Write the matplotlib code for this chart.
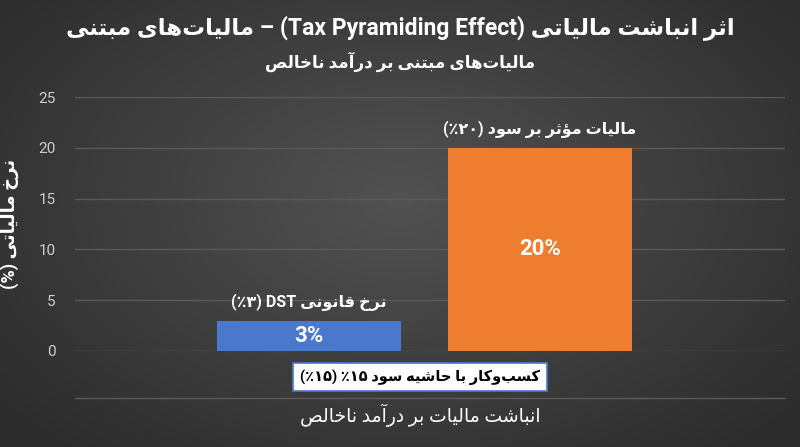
import re
import numpy as np
import matplotlib
matplotlib.use("Agg")
import matplotlib.pyplot as plt
from matplotlib.lines import Line2D

# ---------------- data ----------------
categories = ["DST", "Profit tax"]
values = [3, 20]
bar_labels = ["3%", "20%"]
annotations = ["نرخ قانونی DST (۳٪)", "مالیات مؤثر بر سود (۲۰٪)"]
yticks = [0, 5, 10, 15, 20, 25]
title = "اثر انباشت مالیاتی (Tax Pyramiding Effect) – مالیات‌های مبتنی"
subtitle = "مالیات‌های مبتنی بر درآمد ناخالص"
box_text = "کسب‌وکار با حاشیه سود ۱۵٪ (۱۵٪)"
xlabel = "انباشت مالیات بر درآمد ناخالص"
ylabel = "نرخ مالیاتی (%)"
colors = ["#4a78cc", "#ef7d2f"]

# ---------------- minimal Arabic/Persian shaping ----------------
F = {
 'ا': (0xFE8D, 0xFE8E), 'آ': (0xFE81, 0xFE82), 'د': (0xFEA9, 0xFEAA), 'ذ': (0xFEAB, 0xFEAC),
 'ر': (0xFEAD, 0xFEAE), 'ز': (0xFEAF, 0xFEB0), 'ژ': (0xFB8A, 0xFB8B), 'و': (0xFEED, 0xFEEE),
 'ؤ': (0xFE85, 0xFE86),
 'ب': (0xFE8F, 0xFE90, 0xFE91, 0xFE92), 'پ': (0xFB56, 0xFB57, 0xFB58, 0xFB59),
 'ت': (0xFE95, 0xFE96, 0xFE97, 0xFE98), 'ث': (0xFE99, 0xFE9A, 0xFE9B, 0xFE9C),
 'ج': (0xFE9D, 0xFE9E, 0xFE9F, 0xFEA0), 'چ': (0xFB7A, 0xFB7B, 0xFB7C, 0xFB7D),
 'ح': (0xFEA1, 0xFEA2, 0xFEA3, 0xFEA4), 'خ': (0xFEA5, 0xFEA6, 0xFEA7, 0xFEA8),
 'س': (0xFEB1, 0xFEB2, 0xFEB3, 0xFEB4), 'ش': (0xFEB5, 0xFEB6, 0xFEB7, 0xFEB8),
 'ص': (0xFEB9, 0xFEBA, 0xFEBB, 0xFEBC), 'ض': (0xFEBD, 0xFEBE, 0xFEBF, 0xFEC0),
 'ط': (0xFEC1, 0xFEC2, 0xFEC3, 0xFEC4), 'ظ': (0xFEC5, 0xFEC6, 0xFEC7, 0xFEC8),
 'ع': (0xFEC9, 0xFECA, 0xFECB, 0xFECC), 'غ': (0xFECD, 0xFECE, 0xFECF, 0xFED0),
 'ف': (0xFED1, 0xFED2, 0xFED3, 0xFED4), 'ق': (0xFED5, 0xFED6, 0xFED7, 0xFED8),
 'ک': (0xFB8E, 0xFB8F, 0xFB90, 0xFB91), 'گ': (0xFB92, 0xFB93, 0xFB94, 0xFB95),
 'ل': (0xFEDD, 0xFEDE, 0xFEDF, 0xFEE0), 'م': (0xFEE1, 0xFEE2, 0xFEE3, 0xFEE4),
 'ن': (0xFEE5, 0xFEE6, 0xFEE7, 0xFEE8), 'ه': (0xFEE9, 0xFEEA, 0xFEEB, 0xFEEC),
 'ی': (0xFBFC, 0xFBFD, 0xFBFE, 0xFBFF), 'ي': (0xFEF1, 0xFEF2, 0xFEF3, 0xFEF4),
}

def shape(s):
    out = []
    n = len(s)
    for i, c in enumerate(s):
        if c not in F:
            if c != '\u200c':
                out.append(c)
            continue
        p = s[i - 1] if i > 0 else ''
        q = s[i + 1] if i + 1 < n else ''
        pj = p in F and len(F[p]) == 4
        nj = q in F and len(F[c]) == 4
        f = F[c]
        if pj and nj:
            g = f[3]
        elif pj:
            g = f[1]
        elif nj:
            g = f[2]
        else:
            g = f[0]
        out.append(chr(g))
    return ''.join(out)

MIR = {'(': ')', ')': '('}
LTR = re.compile(r'[A-Za-z0-9۰-۹]+(?: [A-Za-z0-9۰-۹]+)*')

def fa(s):
    runs = []
    pos = 0
    for m in LTR.finditer(s):
        if m.start() > pos:
            runs.append(('r', s[pos:m.start()]))
        runs.append(('l', m.group()))
        pos = m.end()
    if pos < len(s):
        runs.append(('r', s[pos:]))
    vis = []
    for kind, t in reversed(runs):
        if kind == 'l':
            vis.append(t)
        else:
            sh = shape(t)
            vis.append(''.join(MIR.get(ch, ch) for ch in reversed(sh)))
    return ''.join(vis)

FAM = ['Roboto', 'DejaVu Sans']
plt.rcParams['font.family'] = FAM

# ---------------- figure ----------------
fig = plt.figure(figsize=(8, 4.47), dpi=100)
bg = fig.add_axes([0, 0, 1, 1], zorder=-10)
yy, xx = np.mgrid[0:447, 0:800]
r = np.sqrt(((xx - 400) / 520.0) ** 2 + ((yy - 200) / 330.0) ** 2)
r = np.clip(r, 0, 1)
c0 = np.array([0x52, 0x52, 0x52]) / 255
c1 = np.array([0x2c, 0x2c, 0x2c]) / 255
img = c0[None, None, :] * (1 - r[..., None]) + c1[None, None, :] * r[..., None]
bg.imshow(img, aspect='auto', extent=[0, 1, 0, 1])
bg.axis('off')

ax = fig.add_axes([0.094, 0.2148, 0.887, 0.568])
ax.patch.set_alpha(0)
x = np.arange(len(categories))
ax.bar(x, values, width=0.8, color=colors, zorder=3)
ax.set_xlim(-1.013, 2.06)
ax.set_ylim(0, 25)
ax.set_yticks(yticks)
ax.set_yticklabels([str(t) for t in yticks], color='#cfcfcf', fontsize=11)
ax.set_xticks([])
ax.grid(axis='y', color='#5a5a5a', lw=1, zorder=0)
for s in ax.spines.values():
    s.set_visible(False)
ax.tick_params(axis='y', length=0, pad=14)

for xi, v, bl, an in zip(x, values, bar_labels, annotations):
    ax.text(xi, v / 2, bl, ha='center', va='center', color='white',
            fontsize=16, fontweight='bold', zorder=4)
    ax.text(xi, v + 1.8, fa(an), ha='center', va='center', color='white',
            fontsize=11.5, fontweight='bold', zorder=4)

ax.set_ylabel(fa(ylabel), color='white', fontsize=13, fontweight='bold', labelpad=14)

fig.text(0.5, 1 - 28 / 447, fa(title), ha='center', va='center', color='white',
         fontsize=16.5, fontweight='bold')
fig.text(0.5, 1 - 62 / 447, fa(subtitle), ha='center', va='center', color='white',
         fontsize=12, fontweight='bold')
fig.text(420 / 800, 1 - 377 / 447, fa(box_text), ha='center', va='center', color='black',
         fontsize=10.5, fontweight='bold',
         bbox=dict(boxstyle='square,pad=0.45', fc='white', ec='#4a78cc', lw=1.2))
fig.add_artist(Line2D([75 / 800, 785 / 800], [1 - 398 / 447] * 2, color='#5a5a5a', lw=1))
fig.text(420 / 800, 1 - 415 / 447, fa(xlabel), ha='center', va='center', color='white',
         fontsize=13.5)

fig.savefig('out.png', dpi=100)
